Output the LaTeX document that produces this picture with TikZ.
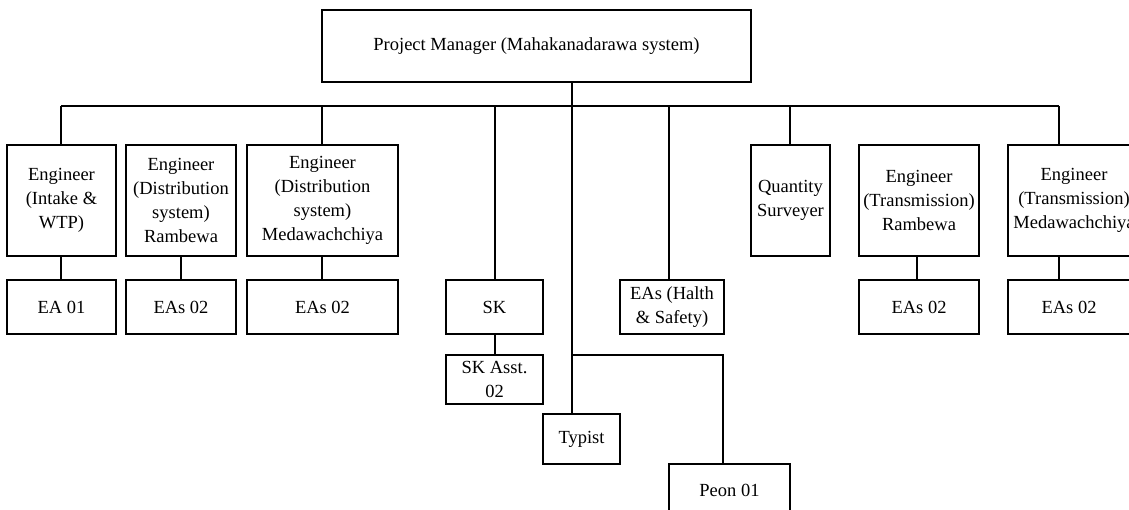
\documentclass[tikz,border=0pt]{standalone}
\usepackage{fontspec}
\setmainfont{Liberation Serif}
\usetikzlibrary{calc}
\begin{document}
\begin{tikzpicture}[x=1pt,y=-1pt,
  box/.style={draw,rectangle,inner sep=0pt,outer sep=0pt,align=center,
    font=\fontsize{18.5}{24}\selectfont,line width=1.6pt},
  link/.style={draw,line width=1.6pt}]
\clip (0,0) rectangle (1129,510);
% boxes: centre, width, height
\newcommand{\orgbox}[6]{\node[box,minimum width=#4pt,minimum height=#5pt] (#1) at (#2,#3) {#6};}
\orgbox{pm}{536.5}{46}{429}{72}{Project Manager (Mahakanadarawa system)}
\orgbox{e1}{61.5}{200.5}{109}{111}{Engineer\\(Intake \&\\WTP)}
\orgbox{e2}{181}{200.5}{110}{111}{Engineer\\(Distribution\\system)\\Rambewa}
\orgbox{e3}{322.5}{200.5}{151}{111}{Engineer\\(Distribution\\system)\\Medawachchiya}
\orgbox{qs}{790.5}{200.5}{79}{111}{Quantity\\Surveyer}
\orgbox{e8}{919}{200.5}{120}{111}{Engineer\\(Transmission)\\Rambewa}
\orgbox{e9}{1074}{200.5}{132}{111}{Engineer\\(Transmission)\\Medawachchiya}
\orgbox{a1}{61.5}{307}{109}{54}{EA 01}
\orgbox{a2}{181}{307}{110}{54}{EAs 02}
\orgbox{a3}{322.5}{307}{151}{54}{EAs 02}
\orgbox{sk}{494.5}{307}{97}{54}{SK}
\orgbox{ska}{494.5}{379.5}{97}{49}{SK Asst.\\02}
\orgbox{hs}{672}{307}{104}{54}{EAs (Halth\\\& Safety)}
\orgbox{a8}{919}{307}{120}{54}{EAs 02}
\orgbox{a9}{1069}{307}{122}{54}{EAs 02}
\orgbox{ty}{581.5}{439}{77}{50}{Typist}
\orgbox{pe}{729.5}{490}{121}{52}{Peon 01}
% junction points on the main bus
\coordinate (jL) at (61,106);
\coordinate (j3) at (322,106);
\coordinate (jSK) at (495,106);
\coordinate (jPM) at (572,106);
\coordinate (jHS) at (669,106);
\coordinate (jQS) at (790,106);
\coordinate (jR) at (1059,106);
% branch to the peon
\coordinate (jB) at (572,355);
\coordinate (jP) at (723,355);
% lower drop lines
\coordinate (x2) at (181,0);
\coordinate (x8) at (917,0);
% main bus and drops
\draw[link] (pm.south -| jPM) -- (jPM);
\draw[link] (jL) -- (jR);
\draw[link] (jL) -- (e1.north -| jL);
\draw[link] (j3) -- (e3.north -| j3);
\draw[link] (jSK) -- (sk.north -| jSK);
\draw[link] (jPM) -- (ty.north -| jPM);
\draw[link] (jHS) -- (hs.north -| jHS);
\draw[link] (jQS) -- (qs.north -| jQS);
\draw[link] (jR) -- (e9.north -| jR);
\draw[link] (jB) -- (jP) -- (pe.north -| jP);
% engineers to their assistants
\draw[link] (e1.south -| jL) -- (a1.north -| jL);
\draw[link] (e2.south -| x2) -- (a2.north -| x2);
\draw[link] (e3.south -| j3) -- (a3.north -| j3);
\draw[link] (sk.south -| jSK) -- (ska.north -| jSK);
\draw[link] (e8.south -| x8) -- (a8.north -| x8);
\draw[link] (e9.south -| jR) -- (a9.north -| jR);
\end{tikzpicture}
\end{document}
